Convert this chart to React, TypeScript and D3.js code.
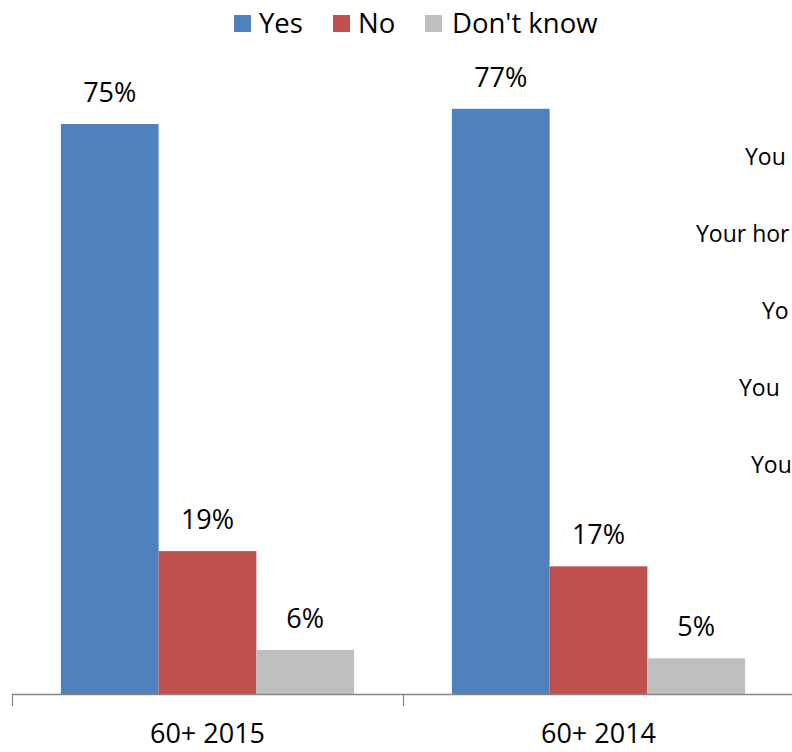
import React from "react";
import * as d3 from "d3";

const categories = ["60+ 2015", "60+ 2014"];
const seriesNames = ["Yes", "No", "Don't know"];
const yesValues = [75, 77];
const noValues = [18.8, 16.8];
const dontKnowValues = [5.8, 4.7];
const seriesColors = ["#4F81BD", "#C0504D", "#BFBFBF"];
const sideLabels = ["You", "Your hor", "Yo", "You", "You"];
const sideLabelX = [745, 696, 762, 739, 751];

const W = 792;
const H = 752;

export default function App() {
  const values = [yesValues, noValues, dontKnowValues];
  const x0 = d3.scaleBand<string>().domain(categories).range([12, 12 + 2 * 391]).padding(0);
  const x1 = d3
    .scaleBand<string>()
    .domain(seriesNames)
    .range([0, x0.bandwidth()])
    .paddingInner(0)
    .paddingOuter(0.5);
  const y = d3.scaleLinear().domain([0, 90]).range([694, 10]);
  const fmt = d3.format(".0f");
  const baseY = y(0);
  const font = "'Open Sans', sans-serif";

  const legendItems = [
    { sq: 234, tx: 259 },
    { sq: 333, tx: 358 },
    { sq: 425, tx: 452 },
  ];

  return (
    <svg width={W} height={H} style={{ position: "absolute", left: 0, top: 0, display: "block" }}>
      <rect x={0} y={0} width={W} height={H} fill="#fff" />
      {/* legend */}
      {seriesNames.map((s, i) => (
        <g key={s}>
          <rect x={legendItems[i].sq} y={15} width={17} height={17} fill={seriesColors[i]} />
          <text x={legendItems[i].tx} y={33} fontFamily={font} fontSize={27.5} fill="#000">
            {s}
          </text>
        </g>
      ))}
      {/* bars */}
      {categories.map((c, ci) => (
        <g key={c} transform={`translate(${x0(c)},0)`}>
          {seriesNames.map((s, si) => {
            const v = values[si][ci];
            const bx = x1(s)!;
            const by = y(v);
            return (
              <g key={s}>
                <rect x={bx} y={by} width={x1.bandwidth()} height={baseY - by} fill={seriesColors[si]} />
                <text
                  x={bx + x1.bandwidth() / 2}
                  y={by - 22}
                  textAnchor="middle"
                  fontFamily={font}
                  fontSize={27}
                  fill="#000"
                >
                  {fmt(v) + "%"}
                </text>
              </g>
            );
          })}
        </g>
      ))}
      {/* axis */}
      <line x1={12} x2={W} y1={694.5} y2={694.5} stroke="#868686" strokeWidth={1.5} />
      {[...categories.map((c) => x0(c)!), x0.range()[1]].map((tx, i) => (
        <line key={i} x1={tx + 0.5} x2={tx + 0.5} y1={694} y2={706} stroke="#868686" strokeWidth={1.2} />
      ))}
      {categories.map((c) => (
        <text
          key={c}
          x={x0(c)! + x0.bandwidth() / 2}
          y={743}
          textAnchor="middle"
          fontFamily={font}
          fontSize={27}
          fill="#000"
        >
          {c}
        </text>
      ))}
      {/* clipped side labels */}
      {sideLabels.map((t, i) => (
        <text key={i} x={sideLabelX[i]} y={165 + i * 77} fontFamily={font} fontSize={23} fill="#000">
          {t}
        </text>
      ))}
    </svg>
  );
}
